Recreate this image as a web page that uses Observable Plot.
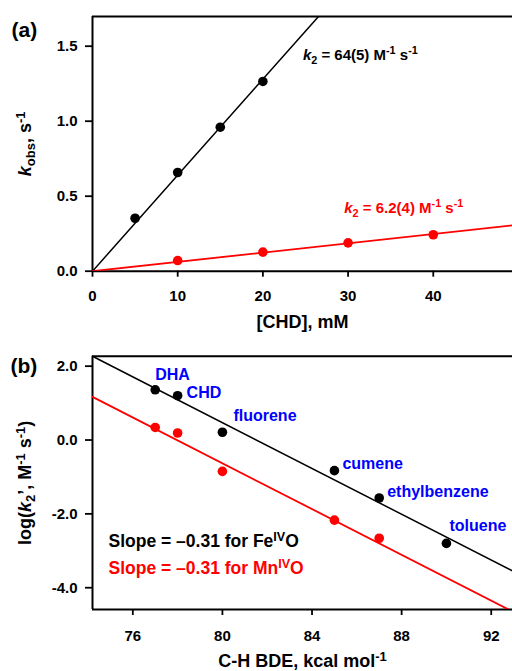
<!DOCTYPE html>
<html><head><meta charset="utf-8">
<script src="https://cdn.jsdelivr.net/npm/d3@7"></script>
<script src="https://cdn.jsdelivr.net/npm/@observablehq/plot@0.6"></script>
<style>
html,body{margin:0;padding:0;background:#fff;overflow:hidden}
#chart{width:512px;height:671px;position:relative}
#chart svg{display:block}
</style></head><body><div id="chart"></div>
<script>
// ---------- Panel (a) data ----------
const concFe = [5, 10, 15, 20];
const kobsFe = [0.353, 0.658, 0.96, 1.265];
const concMn = [10, 20, 30, 40];
const kobsMn = [0.071, 0.127, 0.189, 0.243];
const k2Fe = 0.064;   // mM^-1 s^-1  (64 M^-1 s^-1)
const k2Mn = 0.0062;  // mM^-1 s^-1  (6.2 M^-1 s^-1)
const xTicksA = [0, 10, 20, 30, 40];
const yTicksA = [0, 0.5, 1.0, 1.5];

// ---------- Panel (b) data ----------
const substrates = ["DHA", "CHD", "fluorene", "cumene", "ethylbenzene", "toluene"];
const bdeFe = [77, 78, 80, 85, 87, 90];
const logFe = [1.36, 1.20, 0.21, -0.83, -1.57, -2.80];
const bdeMn = [77, 78, 80, 85, 87];
const logMn = [0.34, 0.19, -0.85, -2.17, -2.66];
const slopeFe = -0.31, interceptFe = 25.27;
const slopeMn = -0.31, interceptMn = 24.17;
const xTicksB = [76, 80, 84, 88, 92];
const yTicksB = [-4, -2, 0, 2];

// ---------- styling ----------
const FONT = "'Liberation Sans', Arial, Helvetica, sans-serif";
const RED = "#ff0000", BLUE = "#0000ff";
const baseStyle = {fontFamily: FONT, fontSize: "15px", fontWeight: "bold", color: "#000", background: "#fff"};

// rich text: replace placeholder text with tspans (italic / sub / sup)
function rich(svg, key, parts) {
  d3.select(svg).selectAll("text").filter(function () { return this.textContent === key; }).each(function () {
    const t = d3.select(this);
    t.text(null);
    let shift = 0;
    for (const p of parts) {
      const [s, kind] = typeof p === "string" ? [p, ""] : p;
      const kinds = kind.split(" ");
      const ts = t.append("tspan").text(s);
      let target = 0;
      if (kinds.includes("sub")) { target = 4; ts.attr("font-size", "72%"); }
      if (kinds.includes("sup")) { target = -6; ts.attr("font-size", "72%"); }
      if (kinds.includes("it")) ts.attr("font-style", "italic");
      if (target !== shift) { ts.attr("dy", target - shift); shift = target; }
    }
  });
}
function thickTicks(svg) {
  d3.select(svg).selectAll('g[aria-label$="tick"]').attr("stroke-width", 1.8);
}

// ---------- Panel (a) ----------
const xDomA = [0, 49.3], yDomA = [0, 1.698];
const fitA = k => xDomA.map(x => ({x, y: k * x}));
const ptsFe = concFe.map((c, i) => ({c, k: kobsFe[i]}));
const ptsMn = concMn.map((c, i) => ({c, k: kobsMn[i]}));

const plotA = Plot.plot({
  width: 512, height: 335,
  marginLeft: 92, marginRight: 0, marginTop: 16, marginBottom: 64.3,
  style: baseStyle,
  x: {domain: xDomA, ticks: xTicksA, tickSize: 6, tickPadding: 13, tickFormat: d => String(d), label: null},
  y: {domain: yDomA, ticks: yTicksA, tickSize: 7, tickPadding: 8, tickFormat: d => d.toFixed(1), label: null},
  marks: [
    Plot.ruleX([xDomA[0]], {stroke: "#000", strokeWidth: 2}),
    Plot.ruleY([yDomA[0], yDomA[1]], {stroke: "#000", strokeWidth: 2}),
    Plot.line(fitA(k2Fe), {x: "x", y: "y", stroke: "#000", strokeWidth: 1.5, clip: true}),
    Plot.line(fitA(k2Mn), {x: "x", y: "y", stroke: RED, strokeWidth: 1.8, clip: true}),
    Plot.dot(ptsFe, {x: "c", y: "k", r: 4.8, fill: "#000"}),
    Plot.dot(ptsMn, {x: "c", y: "k", r: 4.8, fill: RED}),
    Plot.text([ptsFe[ptsFe.length - 1]], {x: "c", y: "k", text: () => "@k2Fe", textAnchor: "start", lineAnchor: "middle", dx: 40, dy: -26, fill: "#000", fontSize: 15}),
    Plot.text([ptsMn[ptsMn.length - 1]], {x: "c", y: "k", text: () => "@k2Mn", textAnchor: "start", lineAnchor: "middle", dx: -89, dy: -27, fill: RED, fontSize: 15}),
    Plot.text(["(a)"], {text: d => d, frameAnchor: "top-left", textAnchor: "start", lineAnchor: "middle", dx: -81, dy: 14, fontSize: 21}),
    Plot.text(["@ylabA"], {text: d => d, frameAnchor: "left", textAnchor: "middle", lineAnchor: "middle", rotate: -90, dx: -67, fontSize: 18}),
    Plot.text(["[CHD], mM"], {text: d => d, frameAnchor: "bottom", textAnchor: "middle", lineAnchor: "middle", dy: 51.5, fontSize: 18})
  ]
});
rich(plotA, "@k2Fe", [["k", "it"], ["2", "sub"], " = 64(5) M", ["-1", "sup"], " s", ["-1", "sup"]]);
rich(plotA, "@k2Mn", [["k", "it"], ["2", "sub"], " = 6.2(4) M", ["-1", "sup"], " s", ["-1", "sup"]]);
rich(plotA, "@ylabA", [["k", "it"], ["obs", "sub"], ", s", ["-1", "sup"]]);
thickTicks(plotA);

// ---------- Panel (b) ----------
const xDomB = [74.2, 92.95], yDomB = [-4.59, 2.27];
const fitB = (a, b) => xDomB.map(x => ({x, y: a + b * x}));
const ptsBFe = bdeFe.map((x, i) => ({x, y: logFe[i], name: substrates[i]}));
const ptsBMn = bdeMn.map((x, i) => ({x, y: logMn[i]}));
const labelOffsets = [[0, -15], [9, -3], [11, -16], [8, -7], [8, -6], [3, -18]];

const plotB = Plot.plot({
  width: 512, height: 336,
  marginLeft: 92, marginRight: 0, marginTop: 20.7, marginBottom: 62,
  style: baseStyle,
  x: {domain: xDomB, ticks: xTicksB, tickSize: 6, tickPadding: 15, tickFormat: d => String(d), label: null},
  y: {domain: yDomB, ticks: yTicksB, tickSize: 7, tickPadding: 8, tickFormat: d => d.toFixed(1), label: null},
  marks: [
    Plot.ruleX([xDomB[0]], {stroke: "#000", strokeWidth: 2}),
    Plot.ruleY([yDomB[0], yDomB[1]], {stroke: "#000", strokeWidth: 2}),
    Plot.line(fitB(interceptFe, slopeFe), {x: "x", y: "y", stroke: "#000", strokeWidth: 1.5, clip: true}),
    Plot.line(fitB(interceptMn, slopeMn), {x: "x", y: "y", stroke: RED, strokeWidth: 1.8, clip: true}),
    Plot.dot(ptsBFe, {x: "x", y: "y", r: 4.8, fill: "#000"}),
    Plot.dot(ptsBMn, {x: "x", y: "y", r: 4.8, fill: RED}),
    ...ptsBFe.map((p, i) => Plot.text([p], {x: "x", y: "y", text: "name", textAnchor: "start", lineAnchor: "middle",
      dx: labelOffsets[i][0], dy: labelOffsets[i][1], fill: BLUE, fontSize: 16})),
    Plot.text(["@slopeFe"], {text: d => d, frameAnchor: "bottom-left", textAnchor: "start", lineAnchor: "middle", dx: 16, dy: -68, fill: "#000", fontSize: 17.5}),
    Plot.text(["@slopeMn"], {text: d => d, frameAnchor: "bottom-left", textAnchor: "start", lineAnchor: "middle", dx: 16, dy: -40.7, fill: RED, fontSize: 17.5}),
    Plot.text(["(b)"], {text: d => d, frameAnchor: "top-left", textAnchor: "start", lineAnchor: "middle", dx: -82, dy: 10.3, fontSize: 21}),
    Plot.text(["@ylabB"], {text: d => d, frameAnchor: "left", textAnchor: "middle", lineAnchor: "middle", rotate: -90, dx: -67, fontSize: 18}),
    Plot.text(["@xlabB"], {text: d => d, frameAnchor: "bottom", textAnchor: "middle", lineAnchor: "middle", dy: 51.9, fontSize: 18})
  ]
});
rich(plotB, "@slopeFe", ["Slope = \u20130.31 for Fe", ["IV", "sup"], "O"]);
rich(plotB, "@slopeMn", ["Slope = \u20130.31 for Mn", ["IV", "sup"], "O"]);
rich(plotB, "@ylabB", ["log(", ["k", "it"], ["2", "sub"], "\u2019, M", ["-1", "sup"], " s", ["-1", "sup"], ")"]);
rich(plotB, "@xlabB", ["C-H BDE, kcal mol", ["-1", "sup"]]);
thickTicks(plotB);

document.getElementById("chart").append(plotA, plotB);
</script></body></html>
